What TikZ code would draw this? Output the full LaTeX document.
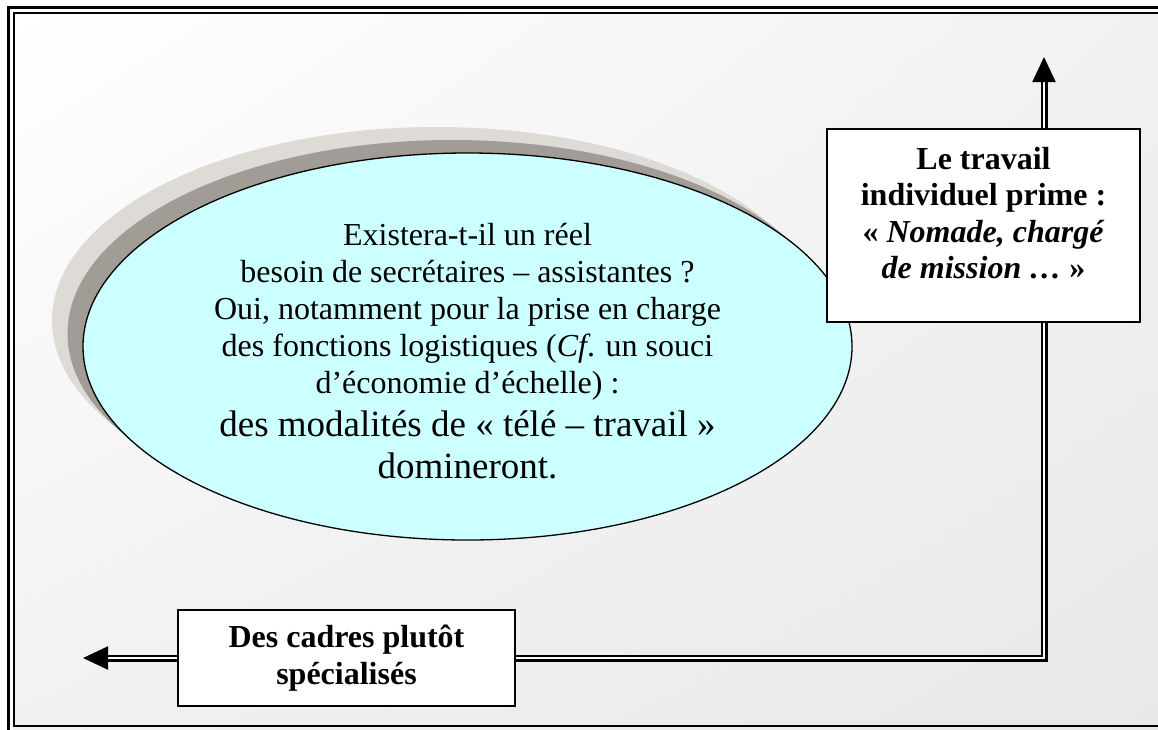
\documentclass[tikz,border=0pt]{standalone}
\usepackage{fontspec}
\setmainfont{Liberation Serif}
\usetikzlibrary{shapes.geometric, arrows.meta, shadings}
\definecolor{bubble}{HTML}{CCFFFF}
\definecolor{shadowlight}{HTML}{DEDAD5}
\definecolor{shadowdark}{HTML}{A29C96}
\definecolor{bgcorner}{HTML}{E8E8E8}
\definecolor{bgmid}{HTML}{F1F1F1}

\begin{document}
\begin{tikzpicture}[x=1pt, y=-1pt,
  textbox/.style={draw=black, line width=1.6pt, fill=white, inner sep=0pt,
    font=\fontsize{32}{36.5}\selectfont\bfseries, align=center},
  flow/.style={draw=black, line width=2.2pt, double=white, double distance=2.6pt},
  flowtip/.style={-{Triangle[length=25pt,width=23pt]}},
]
\useasboundingbox (0,0) rectangle (1158,729);

% page background and double frame, cut at the right and bottom edges
\begin{scope}
  \clip (0,0) rectangle (1158,729);
  \shade[upper left=white, upper right=bgmid, lower left=bgmid, lower right=bgcorner]
    (13,12) rectangle (1170,732);
  \draw[line width=3pt] (8,7) rectangle (1180,740);
  \draw[line width=2pt] (13.5,12.5) rectangle (1170,726);
\end{scope}

% stacked shadows behind the bubble
\fill[shadowlight] (436.5,320.5) ellipse [x radius=384.5pt, y radius=193.5pt];
\fill[shadowdark] (452,333.5) ellipse [x radius=384.5pt, y radius=193.5pt];

% central bubble
\node[ellipse, draw=black, line width=1.3pt, fill=bubble, inner sep=0pt,
      minimum width=769pt, minimum height=387pt] (bubble) at (467.5,346.5)
  {\parbox{540pt}{\centering
    \fontsize{32}{37}\selectfont
    \rule{0pt}{32pt}Existera-t-il un réel\\
    besoin de secrétaires – assistantes ?\\
    Oui, notamment pour la prise en charge\\
    des fonctions logistiques (\textit{Cf}. un souci\\
    d’économie d’échelle) :\par
    \fontsize{37}{42.5}\selectfont
    des modalités de « télé – travail »\\
    domineront.\par}};

% boxes
\node[textbox, minimum width=313pt, minimum height=193pt] (prime) at (983.5,225.5)
  {\parbox[c][193pt][t]{305pt}{\centering
    \rule{0pt}{40pt}Le travail\\
    individuel prime :\\
    « \textit{Nomade, chargé}\\
    \textit{de mission …} »}};

\node[textbox, minimum width=337pt, minimum height=96pt] (cadres) at (346.5,658)
  {Des cadres plutôt\\spécialisés};

% connectors
\coordinate (riser) at (1044,0);
\coordinate (uptip) at (1044,57);
\coordinate (lefttip) at (83,658);

\draw[flow] (cadres.east) -- (cadres.east -| riser) -- (prime.south -| riser);
\draw[flow, flowtip] (prime.north -| riser) -- (uptip);
\draw[flow, flowtip] (cadres.west) -- (lefttip);
\end{tikzpicture}
\end{document}
